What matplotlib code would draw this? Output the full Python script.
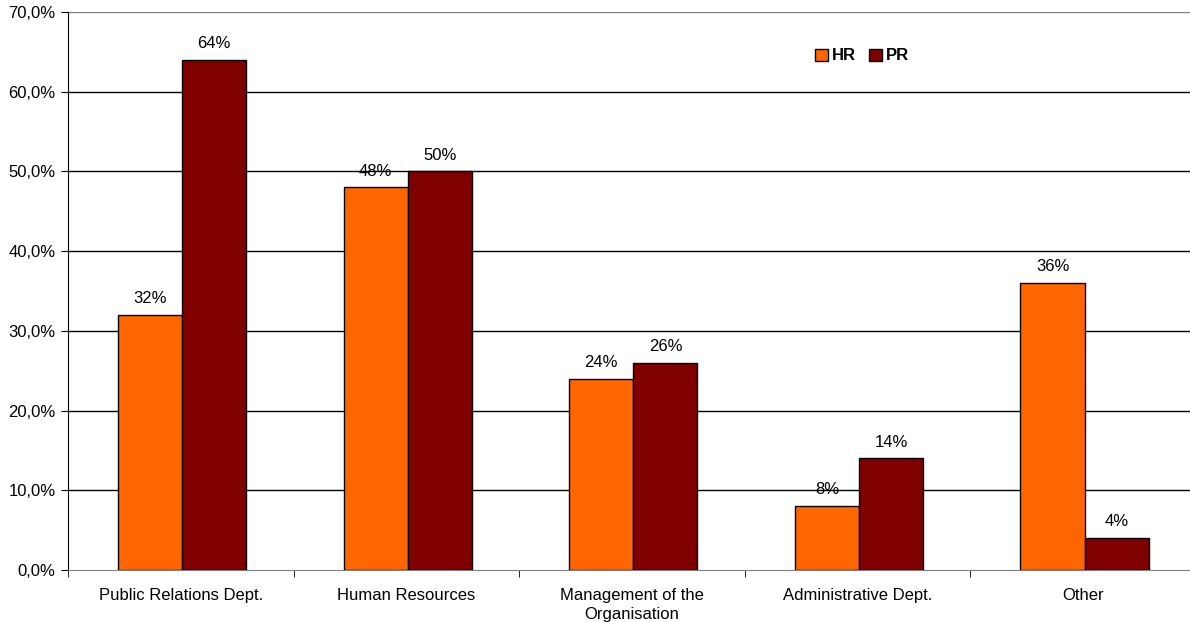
import matplotlib.pyplot as plt
import numpy as np

plt.rcParams['font.family'] = ['Liberation Sans', 'DejaVu Sans']

# Данные
categories = ["Public Relations Dept.", "Human Resources", "Management of the\nOrganisation",
              "Administrative Dept.", "Other"]
hr = [32, 48, 24, 8, 36]
pr = [64, 50, 26, 14, 4]

x = np.arange(len(categories))
w = 0.284

fig = plt.figure(figsize=(11.9, 6.22), dpi=100)
ax = fig.add_axes([68/1190, 52/622, 1128/1190, 558/622])

b1 = ax.bar(x - w/2 + 0.006, hr, w, color='#FF6600', edgecolor='black', linewidth=1, label='HR', zorder=3)
b2 = ax.bar(x + w/2 + 0.006, pr, w, color='#800000', edgecolor='black', linewidth=1, label='PR', zorder=3)

for bars, vals in ((b1, hr), (b2, pr)):
    for b, v in zip(bars, vals):
        ax.text(b.get_x() + b.get_width()/2, v + 1.1, f"{v}%", ha='center', va='bottom', fontsize=12)

ax.set_ylim(0, 70)
ax.set_xlim(-0.5, 4.5)
ax.set_yticks(range(0, 71, 10))
ax.set_yticklabels([f"{v},0%" for v in range(0, 71, 10)], fontsize=12)
for v in range(10, 71, 10):
    ax.axhline(v, color='black' if v < 70 else '#808080', linewidth=1, zorder=1)

ax.set_xticks(x)
ax.set_xticklabels(categories, fontsize=12, linespacing=1.3)
ax.tick_params(axis='x', length=0, pad=13)
ax.set_xticks(np.arange(-0.5, 5, 1), minor=True)
ax.tick_params(axis='x', which='minor', length=5, direction='out', color='black')
ax.tick_params(axis='y', length=5, direction='out', pad=4)

for s in ('top', 'right'):
    ax.spines[s].set_visible(False)
ax.spines['bottom'].set_color('#808080')
ax.spines['left'].set_color('black')

ax.legend(loc='center', bbox_to_anchor=(862/1190, 1 - 56/622), bbox_transform=fig.transFigure,
          ncol=2, frameon=False, handlelength=0.75, handleheight=0.75, handletextpad=0.25,
          columnspacing=0.8, prop={'weight': 'bold', 'size': 12})

fig.savefig('out.png', dpi=100)
